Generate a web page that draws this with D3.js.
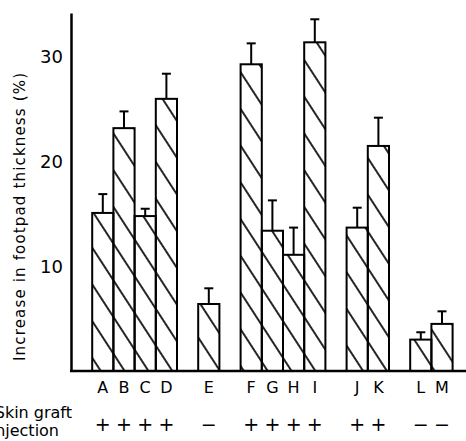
<!DOCTYPE html>
<html>
<head>
<meta charset="utf-8">
<script src="https://cdn.jsdelivr.net/npm/d3@7"></script>
<style>
body { margin: 0; background: #fff; }
text { font-family: "DejaVu Sans", sans-serif; fill: #000; }
</style>
</head>
<body>
<div id="chart"></div>
<script>
// groups of bars that sit side by side; one empty slot between groups
var groups = [["A", "B", "C", "D"], ["E"], ["F", "G", "H", "I"], ["J", "K"], ["L", "M"]];
var labels = ["A", "B", "C", "D", "E", "F", "G", "H", "I", "J", "K", "L", "M"];
var means = [15.1, 23.2, 14.8, 26.0, 6.4, 29.3, 13.4, 11.1, 31.4, 13.7, 21.5, 3.0, 4.5];
var errTops = [16.9, 24.8, 15.5, 28.4, 7.9, 31.3, 16.3, 13.7, 33.6, 15.6, 24.2, 3.7, 5.7];
var signs = ["+", "+", "+", "+", "\u2212", "+", "+", "+", "+", "+", "+", "\u2212", "\u2212"];
var yTicks = [10, 20, 30];

function makeChart() {
    var margin = { top: 13, right: 0, bottom: 69, left: 71 },
        width = 466 - margin.left - margin.right,
        height = 441 - margin.top - margin.bottom;

    var svg = d3
        .select("#chart")
        .append("svg")
        .attr("width", 466)
        .attr("height", 441);

    // hatch pattern, drawn in page space so lines run on across touching bars
    svg.append("defs")
        .append("pattern")
        .attr("id", "hatch")
        .attr("patternUnits", "userSpaceOnUse")
        .attr("width", 20)
        .attr("height", 20)
        .attr("patternTransform", "rotate(-33)")
        .append("line")
        .attr("x1", 10)
        .attr("y1", -1)
        .attr("x2", 10)
        .attr("y2", 21)
        .attr("stroke", "#000")
        .attr("stroke-width", 1.7);

    var g = svg.append("g")
        .attr("transform", "translate(" + margin.left + "," + margin.top + ")");

    // work out which slot each bar sits in
    var slotOf = {};
    var slot = 1;
    groups.forEach((grp) => {
        grp.forEach((k) => {
            slotOf[k] = slot;
            slot += 1;
        });
        slot += 1;
    });
    var nSlots = slot - 1;

    var data = labels.map((k, i) => ({
        key: k,
        slot: slotOf[k],
        mean: means[i],
        err: errTops[i],
        sign: signs[i],
    }));

    var x = d3
        .scaleBand()
        .domain(d3.range(nSlots))
        .range([0, nSlots * 21.2]);

    var y = d3.scaleLinear().domain([0, 34.2]).range([height - 1, 0]);

    // bars
    g.selectAll(".bar")
        .data(data)
        .enter()
        .append("rect")
        .attr("class", "bar")
        .attr("x", (d) => x(d.slot))
        .attr("y", (d) => y(d.mean))
        .attr("width", x.bandwidth())
        .attr("height", (d) => y(0) - y(d.mean))
        .attr("fill", "url(#hatch)")
        .attr("stroke", "#000")
        .attr("stroke-width", 2);

    // error bars
    g.selectAll(".err")
        .data(data)
        .enter()
        .append("line")
        .attr("class", "err")
        .attr("x1", (d) => x(d.slot) + x.bandwidth() / 2)
        .attr("x2", (d) => x(d.slot) + x.bandwidth() / 2)
        .attr("y1", (d) => y(d.mean))
        .attr("y2", (d) => y(d.err))
        .attr("stroke", "#000")
        .attr("stroke-width", 2);

    g.selectAll(".cap")
        .data(data)
        .enter()
        .append("line")
        .attr("class", "cap")
        .attr("x1", (d) => x(d.slot) + x.bandwidth() / 2 - 4.5)
        .attr("x2", (d) => x(d.slot) + x.bandwidth() / 2 + 4.5)
        .attr("y1", (d) => y(d.err))
        .attr("y2", (d) => y(d.err))
        .attr("stroke", "#000")
        .attr("stroke-width", 2);

    // y axis
    var yAxis = g.append("g")
        .call(d3.axisLeft(y).tickValues(yTicks).tickSize(0).tickSizeOuter(0).tickPadding(8));
    yAxis.select(".domain").attr("stroke-width", 2.5);
    yAxis.selectAll("text").style("font-size", "18px").style("font-family", "DejaVu Sans");

    // baseline across the whole plot
    g.append("line")
        .attr("x1", -1)
        .attr("x2", width)
        .attr("y1", y(0))
        .attr("y2", y(0))
        .attr("stroke", "#000")
        .attr("stroke-width", 2.5);

    // bar letters
    var xAxis = g.append("g")
        .attr("transform", "translate(0," + y(0) + ")")
        .call(
            d3.axisBottom(x)
                .tickValues(data.map((d) => d.slot))
                .tickFormat((s) => data.find((d) => d.slot === s).key)
                .tickSize(0)
                .tickPadding(11)
        );
    xAxis.select(".domain").remove();
    xAxis.selectAll("text").style("font-size", "16px").style("font-family", "DejaVu Sans");

    // + / - row
    g.selectAll(".sign")
        .data(data)
        .enter()
        .append("text")
        .attr("class", "sign")
        .attr("x", (d) => x(d.slot) + x.bandwidth() / 2)
        .attr("y", y(0) + 60)
        .attr("text-anchor", "middle")
        .style("font-size", "19px")
        .text((d) => d.sign);

    // row titles, running off the left edge as in the original
    svg.append("text")
        .attr("x", 72)
        .attr("y", 418)
        .attr("text-anchor", "end")
        .style("font-size", "16px")
        .text("Skin graft");
    svg.append("text")
        .attr("x", 59)
        .attr("y", 436)
        .attr("text-anchor", "end")
        .style("font-size", "16px")
        .text("Injection");

    // y title
    svg.append("text")
        .attr("transform", "translate(25,217) rotate(-90)")
        .attr("text-anchor", "middle")
        .attr("textLength", 288)
        .attr("lengthAdjust", "spacing")
        .style("font-size", "15px")
        .text("Increase in footpad thickness (%)");
}

makeChart();
</script>
</body>
</html>
